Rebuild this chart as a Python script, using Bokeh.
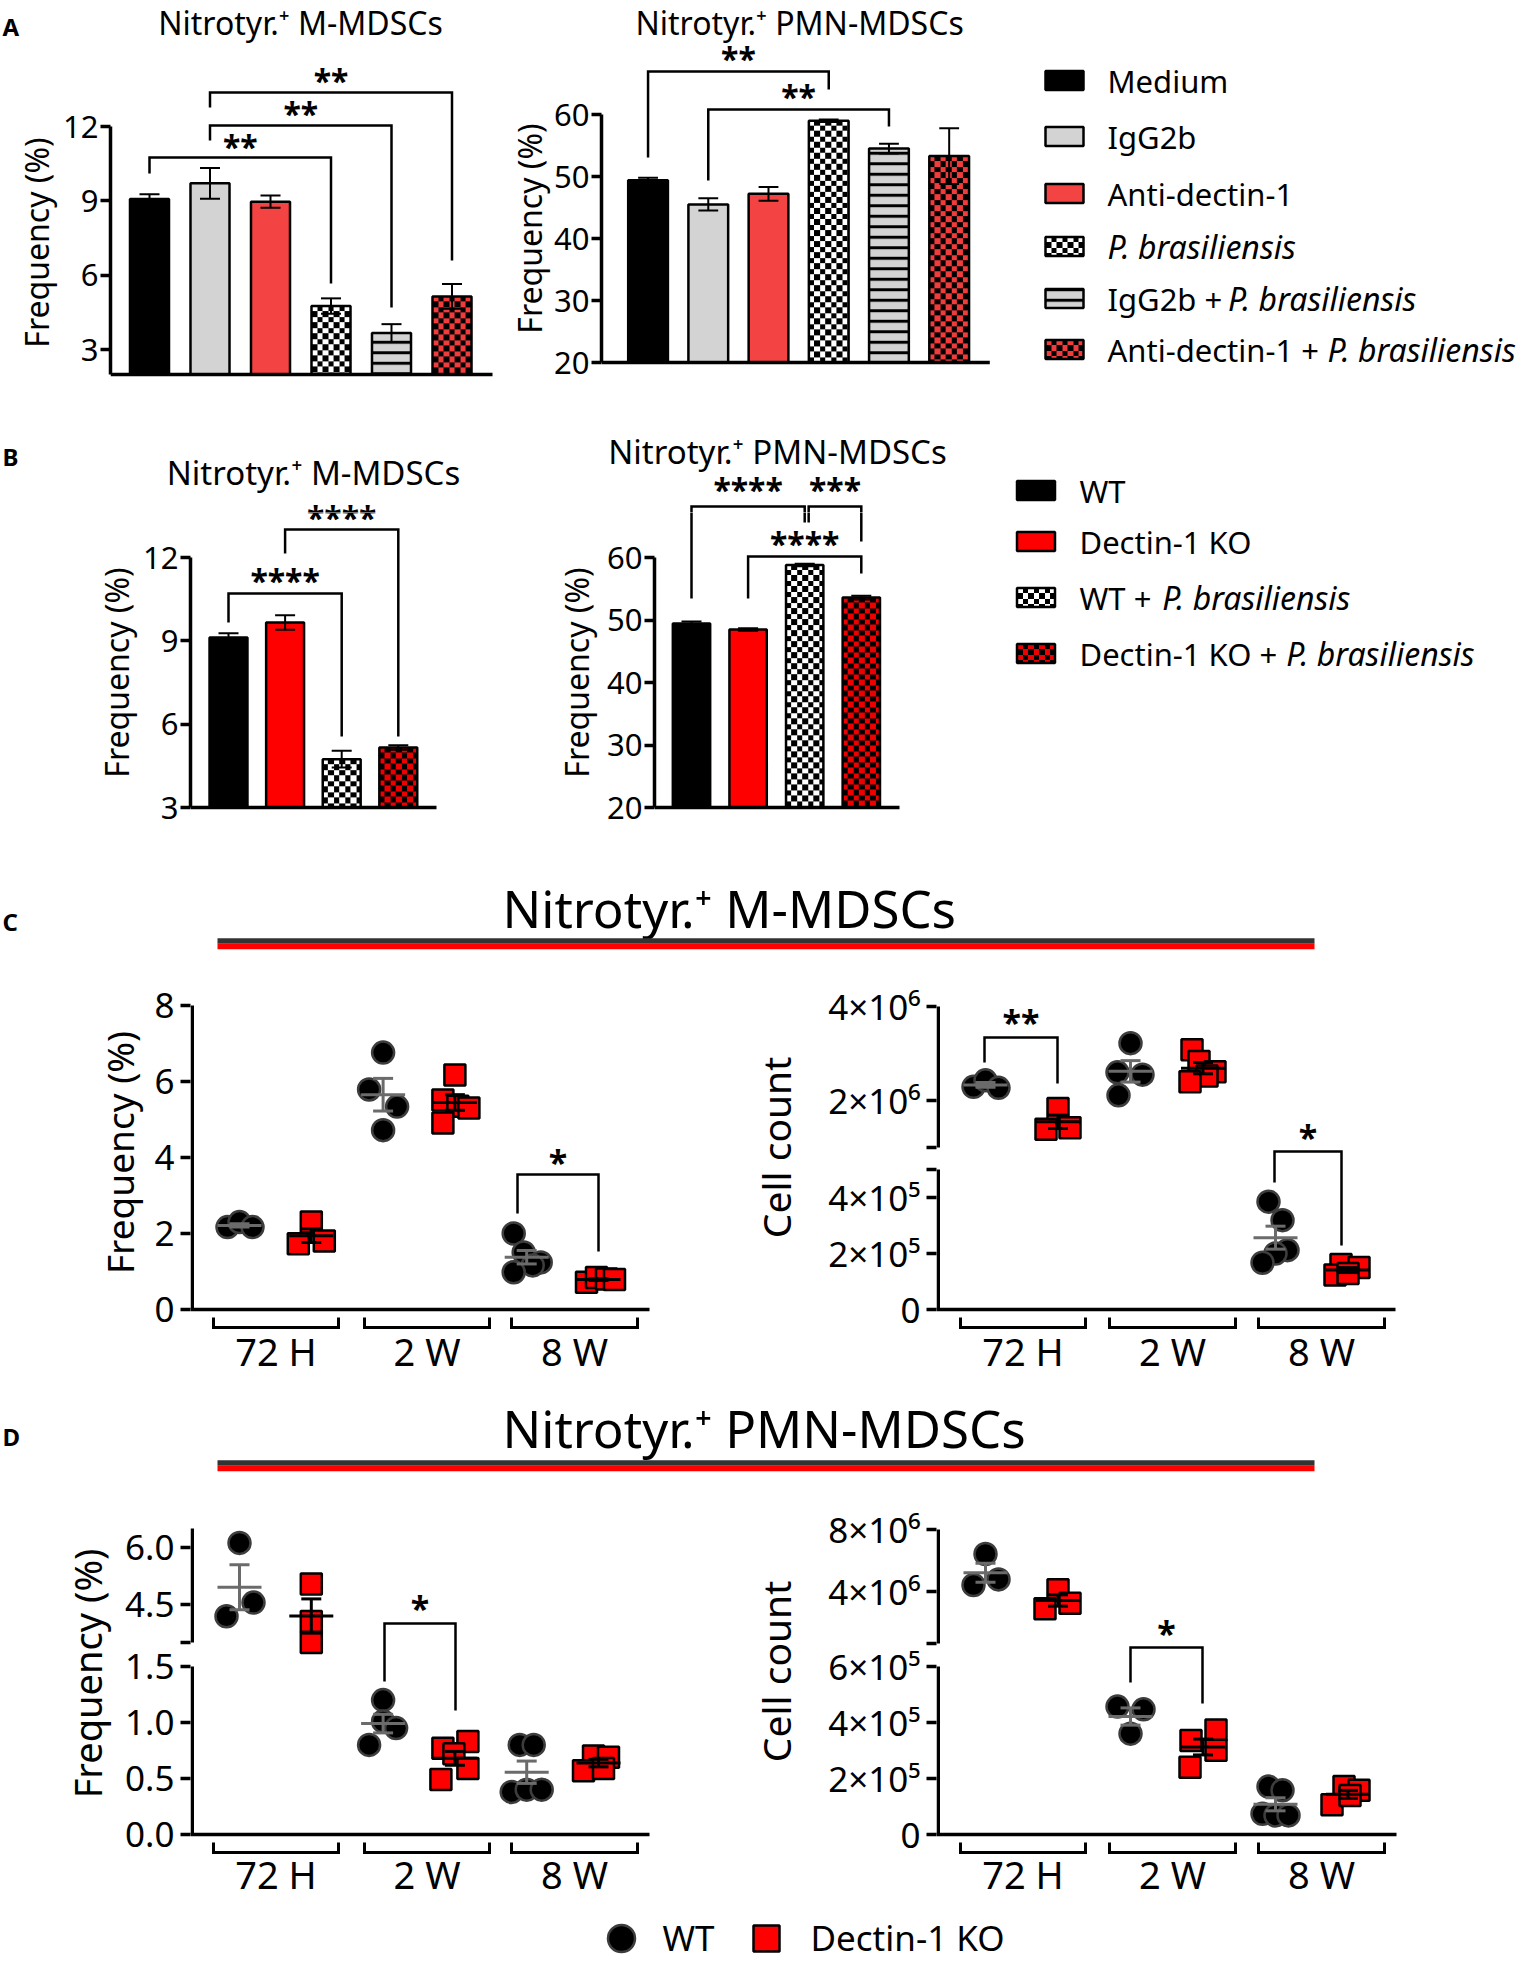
import numpy as np
from bokeh.plotting import figure
from bokeh.layouts import column, row
from bokeh.models import Range1d, FixedTicker
from bokeh.core.properties import value
from bokeh.embed import file_html
from bokeh.resources import INLINE

FONT = "Noto Sans"

# ---------------------------------------------------------------- data
a_labels = ["Medium", "IgG2b", "Anti-dectin-1", "P. brasiliensis",
            "IgG2b + P. brasiliensis", "Anti-dectin-1 + P. brasiliensis"]
a_mmdsc = [9.08, 9.71, 8.97, 4.76, 3.67, 5.15]
a_mmdsc_sem = [0.19, 0.62, 0.25, 0.31, 0.36, 0.50]
a_pmn = [49.4, 45.5, 47.2, 59.0, 54.5, 53.3]
a_pmn_sem = [0.4, 1.0, 1.1, 0.2, 0.8, 4.5]

b_labels = ["WT", "Dectin-1 KO", "WT + P. brasiliensis", "Dectin-1 KO + P. brasiliensis"]
b_mmdsc = [9.12, 9.66, 4.74, 5.16]
b_mmdsc_sem = [0.15, 0.26, 0.30, 0.08]
b_pmn = [49.44, 48.5, 58.8, 53.6]
b_pmn_sem = [0.32, 0.2, 0.2, 0.3]

timepoints = ["72 H", "2 W", "8 W"]
c_freq_wt = [[2.17, 2.30, 2.17], [6.76, 5.79, 5.34, 4.72], [2.00, 1.50, 1.24, 1.16, 0.98]]
c_freq_ko = [[1.73, 2.30, 1.80], [6.17, 5.51, 5.35, 5.30, 4.91], [0.72, 0.84, 0.80, 0.79]]
c_count_wt = [[2.29e6, 2.43e6, 2.27e6], [3.22e6, 2.60e6, 2.55e6, 2.11e6],
              [3.85e5, 3.19e5, 2.12e5, 2.00e5, 1.67e5]]
c_count_ko = [[1.39e6, 1.83e6, 1.42e6], [3.08e6, 2.83e6, 2.61e6, 2.52e6, 2.40e6],
              [1.61e5, 1.50e5, 1.23e5, 1.29e5]]
d_freq_wt = [[6.12, 4.19, 4.55], [1.20, 1.01, 0.95, 0.80], [0.80, 0.80, 0.38, 0.40, 0.40]]
d_freq_ko = [[5.04, 4.05, 3.50], [0.83, 0.77, 0.72, 0.59, 0.49], [0.70, 0.69, 0.57, 0.59]]
d_count_wt = [[6.42e6, 4.42e6, 4.78e6], [4.57e5, 4.47e5, 3.60e5],
              [1.71e5, 1.58e5, 0.74e5, 0.68e5, 0.68e5]]
d_count_ko = [[4.12e6, 2.89e6, 3.25e6], [3.73e5, 3.01e5, 3.36e5, 2.40e5],
              [1.71e5, 1.58e5, 1.06e5, 1.39e5]]

# horizontal scatter offsets of the dots (px)
c_freq_wt_dx = [[-12, 0, 13], [0, -14, 14, 0], [-13, -3, 14, 6, -13]]
c_freq_ko_dx = [[-13, 0, 13], [0, -12, 3, 14, -12], [-12, -2, 8, 16]]
c_count_wt_dx = [[-12, 0, 13], [0, -13, 12, -12], [-7, 7, 12, 0, -13]]
c_count_ko_dx = [[-12, 0, 12], [-11, -4, 12, 4, -13], [-7, 11, -13, 0]]
d_freq_wt_dx = [[0, -13, 14], [0, 0, 13, -14], [-7, 7, -15, 0, 15]]
d_freq_ko_dx = [[0, 0, 0], [13, -12, -1, 13, -14], [-5, 10, -15, 5]]
d_count_wt_dx = [[0, -12, 13], [-13, 13, 0], [-7, 7, -13, 0, 13]]
d_count_ko_dx = [[0, -13, 12], [13, 13, -12, -13], [-4, 11, -16, 2]]

# ---------------------------------------------------------------- styles
BLACK = (0, 0, 0, 255)
WHITE = (255, 255, 255, 255)
RED_A = (242, 60, 60, 255)
RED_B = (238, 0, 0, 255)
a_styles = [("solid", "black"), ("solid", "#d3d3d3"), ("solid", "#f44343"),
            ("checker", WHITE, BLACK), ("stripe", "#d3d3d3"), ("checker", RED_A, BLACK)]
b_styles = [("solid", "black"), ("solid", "#ff0000"),
            ("checker", WHITE, BLACK), ("checker", RED_B, BLACK)]

W_EM = {' ': .26, 'A': .633, 'D': .735, 'G': .728, 'I': .274, 'K': .589, 'O': .781,
        'P': .579, 'T': .566, 'W': .944, 'M': .907, 'a': .556, 'b': .613, 'c': .476,
        'd': .613, 'e': .561, 'g': .548, 'i': .253, 'l': .253, 'n': .614, 'r': .408,
        's': .477, 't': .353, 'u': .614, 'm': .94, '+': .571, '-': .322, '1': .572, '2': .572}


def text_w(s, fs):
    return sum(W_EM.get(c, .56) for c in s) * fs


class F:
    pass


def make_fig(box, frame, xmap, ymap, y_axis=False):
    X0, Y0, X1, Y1 = box
    FL, FT, FR, FB = frame
    ox, kx = xmap
    (sa, va), (sb, vb) = ymap
    ky = (sa - sb) / (vb - va)
    f = F()
    f.fx = lambda sx: (sx - ox) / kx
    f.fy = lambda sy: va + (sa - sy) / ky
    f.kx, f.ky = kx, ky
    f.FL, f.FT, f.FR, f.FB = FL, FT, FR, FB
    p = figure(width=X1 - X0, height=Y1 - Y0,
               x_range=Range1d(f.fx(FL), f.fx(FR)), y_range=Range1d(f.fy(FB), f.fy(FT)),
               x_axis_location=None, y_axis_location="left" if y_axis else None,
               output_backend="svg", toolbar_location=None, title=None,
               min_border_left=FL - X0, min_border_right=X1 - FR,
               min_border_top=FT - Y0, min_border_bottom=Y1 - FB)
    p.outline_line_color = None
    p.background_fill_color = "white"
    p.border_fill_color = "white"
    for g in p.grid:
        g.visible = False
    f.p = p
    return f


def pfig(box):
    X0, Y0, X1, Y1 = box
    return make_fig(box, box, (0, 1), ((Y1, 0), (Y0, Y1 - Y0)))


def txt(f, sx, sy, text, size, style="normal", align="center", angle=0.0):
    # sy = visual centre of the text line
    f.p.text(x=[f.fx(sx)], y=[f.fy(sy)], text=[text], angle=angle, text_font=value(FONT),
             text_font_size=value(f"{size}px"), text_font_style=value(style),
             text_align=value(align), text_baseline=value("alphabetic"), text_color="black")


def style_axis(ax, fs, standoff=6):
    ax.major_tick_in = 0
    ax.major_tick_out = 10
    ax.minor_tick_line_color = None
    ax.major_tick_line_width = 3.5
    ax.major_tick_line_color = "black"
    ax.axis_line_width = 3.5
    ax.axis_line_color = "black"
    ax.major_label_text_font = FONT
    ax.major_label_text_font_size = f"{fs}px"
    ax.major_label_text_color = "black"
    ax.major_label_standoff = standoff


def checker_rgba(w_px, h_px, ca, cb, cell=5.5, ss=2):
    W = max(2, int(round(w_px * ss)))
    H = max(2, int(round(h_px * ss)))
    yy, xx = np.mgrid[0:H, 0:W]
    yy = H - 1 - yy
    m = ((yy // (cell * ss)).astype(int) + (xx // (cell * ss)).astype(int)) % 2 == 0
    img = np.zeros((H, W), dtype=np.uint32)
    v = img.view(dtype=np.uint8).reshape((H, W, 4))
    v[m] = ca
    v[~m] = cb
    return img


def bar_panel(f, vals, sems, base, styles, bw, yticks, ytop, x_end_px):
    p = f.p
    ya = p.yaxis[0]
    style_axis(ya, 31, standoff=2)
    ya.ticker = FixedTicker(ticks=yticks)
    ya.bounds = (base, ytop)
    for i, (v, st) in enumerate(zip(vals, styles)):
        if st[0] == "solid":
            p.vbar(x=[i], top=[v], bottom=base, width=bw, fill_color=st[1],
                   line_color="black", line_width=2.5)
        elif st[0] == "stripe":
            p.vbar(x=[i], top=[v], bottom=base, width=bw, fill_color=st[1],
                   hatch_pattern="horizontal_line", hatch_color="black", hatch_scale=10.5,
                   hatch_weight=3, line_color="black", line_width=2.5)
        else:
            img = checker_rgba(bw * f.kx, (v - base) * f.ky, st[1], st[2])
            p.image_rgba(image=[img], x=i - bw / 2, y=base, dw=bw, dh=v - base)
            p.vbar(x=[i], top=[v], bottom=base, width=bw, fill_color=None,
                   line_color="black", line_width=2.5)
    x = np.arange(len(vals), dtype=float)
    lo = np.array(vals) - np.array(sems)
    hi = np.array(vals) + np.array(sems)
    cap = 10 / f.kx
    p.segment(x, lo, x, hi, line_color="black", line_width=2)
    p.segment(x - cap, hi, x + cap, hi, line_color="black", line_width=2)
    p.segment(x - cap, lo, x + cap, lo, line_color="black", line_width=2)
    p.segment([f.fx(f.FL)], [base], [f.fx(x_end_px)], [base], line_color="black", line_width=3.5)


def bar_sx(f, xi):
    return f.FL + (xi - f.fx(f.FL)) * f.kx


def bracket(f, x0, x1, s_top, s_l, s_r, stars=None, s_star=None, fs=32):
    f.p.multi_line(xs=[[x0, x0, x1, x1]],
                   ys=[[f.fy(s_l), f.fy(s_top), f.fy(s_top), f.fy(s_r)]],
                   line_color="black", line_width=2.5, line_join="miter")
    if stars:
        txt(f, bar_sx(f, (x0 + x1) / 2), s_star + 0.19 * fs, stars, fs, "bold")


def bracket_px(f, sx0, sx1, s_top, s_l, s_r):
    f.p.multi_line(xs=[[f.fx(sx0), f.fx(sx0), f.fx(sx1), f.fx(sx1)]],
                   ys=[[f.fy(s_l), f.fy(s_top), f.fy(s_top), f.fy(s_r)]],
                   line_color="black", line_width=2.5, line_join="miter")


def make_map(segs):
    def mp(v):
        va, vb, pa, pb = segs[0]
        if len(segs) > 1 and v > vb:
            va, vb, pa, pb = segs[1]
        return pa + (v - va) * (pb - pa) / (vb - va)
    return mp


def dot_panel(f, wt, ko, wt_dx, ko_dx, mp, tick_vals, tick_labels, extra_px, lines,
              base_sy, x_end_px, spans, lab_dy=41):
    p = f.p
    ax = p.yaxis[0]
    style_axis(ax, 35)
    ticks = [int(round(mp(v))) for v in tick_vals]
    ov = {t: l for t, l in zip(ticks, tick_labels)}
    for e in extra_px:
        ticks.append(e)
        ov[e] = ""
    ax.ticker = FixedTicker(ticks=sorted(ticks))
    ax.major_label_overrides = ov
    ax.axis_line_color = None
    xl = f.fx(f.FL + 1.75)
    p.segment([xl] * len(lines), [a for a, b in lines], [xl] * len(lines), [b for a, b in lines],
              line_color="black", line_width=3.5, line_cap="butt")
    p.segment([f.fx(f.FL)], [0], [f.fx(x_end_px)], [0], line_color="black", line_width=3.5)
    for (a, b), t in zip(spans, timepoints):
        p.multi_line(xs=[[f.fx(a), f.fx(a), f.fx(b), f.fx(b)]],
                     ys=[[f.fy(base_sy + 8), f.fy(base_sy + 18), f.fy(base_sy + 18), f.fy(base_sy + 8)]],
                     line_color="black", line_width=3, line_join="miter")
        txt(f, (a + b) / 2, base_sy + lab_dy, t, 38)
    for data, dxs, slot, kind in ((wt, wt_dx, 0, "wt"), (ko, ko_dx, 1, "ko")):
        xs, ys = [], []
        for g, (vals, dx) in enumerate(zip(data, dxs)):
            for v, d in zip(vals, dx):
                xs.append(2 * g + slot + d / f.kx)
                ys.append(mp(v))
        if kind == "wt":
            p.scatter(xs, ys, marker="circle", size=22, fill_color="black",
                      line_color="#3d3d3d", line_width=2.5)
        else:
            p.scatter(xs, ys, marker="square", size=21, fill_color="#ff0000",
                      line_color="black", line_width=2.5)
    for data, slot, col in ((wt, 0, "#6b6b6b"), (ko, 1, "black")):
        x0s, y0s, x1s, y1s = [], [], [], []
        hw, cw = 22 / f.kx, 10 / f.kx
        for g, vals in enumerate(data):
            m = float(np.mean(vals))
            s = float(np.std(vals, ddof=1) / np.sqrt(len(vals)))
            x = 2 * g + slot
            for a, b, c, d in ((x - hw, m, x + hw, m), (x, m - s, x, m + s),
                               (x - cw, m + s, x + cw, m + s), (x - cw, m - s, x + cw, m - s)):
                x0s.append(a); y0s.append(mp(b)); x1s.append(c); y1s.append(mp(d))
        p.segment(x0s, y0s, x1s, y1s, line_color=col, line_width=3)


def dot_bracket(f, sx0, sx1, s_top, s_l, s_r, stars, s_star, fs=34):
    bracket_px(f, sx0, sx1, s_top, s_l, s_r)
    txt(f, (sx0 + sx1) / 2, s_star + 0.19 * fs, stars, fs, "bold")


def swatch(f, cx, cy, st, w=38, h=19):
    p = f.p
    if st[0] == "checker":
        img = checker_rgba(w, h, st[1], st[2])
        p.image_rgba(image=[img], x=f.fx(cx - w / 2), y=f.fy(cy + h / 2), dw=w, dh=h)
        p.rect(x=[f.fx(cx)], y=[f.fy(cy)], width=w, height=h, fill_color=None,
               line_color="black", line_width=2.5)
    elif st[0] == "stripe":
        p.rect(x=[f.fx(cx)], y=[f.fy(cy)], width=w, height=h, fill_color=st[1],
               hatch_pattern="horizontal_line", hatch_color="black", hatch_scale=10.5,
               hatch_weight=3, line_color="black", line_width=2.5)
    else:
        p.rect(x=[f.fx(cx)], y=[f.fy(cy)], width=w, height=h, fill_color=st[1],
               line_color="black", line_width=2.5)


def legend_panel(f, labels, styles, sw_x, txt_x, rows, fs=31, fs_it=32):
    for lbl, st, cy in zip(labels, styles, rows):
        swatch(f, sw_x, cy, st)
        if "P. brasiliensis" in lbl:
            pre = lbl.replace("P. brasiliensis", "")
            if pre:
                txt(f, txt_x, cy, pre, fs, align="left")
            txt(f, txt_x + text_w(pre, fs) + (2 if pre else 0), cy, "P. brasiliensis", fs_it,
                "italic", align="left")
        else:
            txt(f, txt_x, cy, lbl, fs, align="left")


VERT = np.pi / 2
LET = 24

# ================================================================ Panel A (y 0..408)
GA = pfig((0, 0, 60, 408))
txt(GA, 2, 26, "A", LET, "bold", align="left")
txt(GA, 36, 242, "Frequency (%)", 32, angle=VERT)

A1 = make_fig((60, 0, 551, 408), (110, 0, 551, 408), (149, 60.5), ((374, 2), (126, 12)), True)
bar_panel(A1, a_mmdsc, a_mmdsc_sem, 2, a_styles, 0.645, [3, 6, 9, 12], 12, 492)
txt(A1, 300, 22, "Nitrotyr.⁺ M-MDSCs", 32)
txt(A1, 529, 228, "Frequency (%)", 32, angle=VERT)   # y title of the right-hand plot
for b in [(0, 3, 157, 173, 283, "**", 140), (1, 4, 125, 140, 307, "**", 107),
          (1, 5, 92, 107, 260, "**", 74)]:
    bracket(A1, *b)

A2 = make_fig((551, 0, 1020, 408), (597, 0, 1020, 408), (644, 60.8), ((362, 20), (114, 60)), True)
bar_panel(A2, a_pmn, a_pmn_sem, 20, a_styles, 0.66, [20, 30, 40, 50, 60], 60, 989)
txt(A2, 797, 22, "Nitrotyr.⁺ PMN-MDSCs", 32)
for b in [(0, 3, 71, 157, 89, "**", 52), (1, 4, 109, 180, 126, "**", 90)]:
    bracket(A2, *b)

LA = pfig((1020, 0, 1534, 408))
legend_panel(LA, a_labels, a_styles, 1064, 1107, [80, 136, 193, 246, 298, 349])

# ================================================================ Panel B (y 408..860)
SPLIT = 512
TBL = pfig((0, 408, 598, SPLIT))
txt(TBL, 2, 456, "B", LET, "bold", align="left")
txt(TBL, 313, 472, "Nitrotyr.⁺ M-MDSCs", 33)
TBR = pfig((598, 408, 1010, SPLIT))
txt(TBR, 777, 451, "Nitrotyr.⁺ PMN-MDSCs", 33)
LBT = pfig((1010, 408, 1534, SPLIT))
legend_panel(LBT, b_labels[:1], b_styles[:1], 1035.5, 1079, [490])

GB = pfig((0, SPLIT, 140, 860))
txt(GB, 116, 672, "Frequency (%)", 32, angle=VERT)

B1 = make_fig((140, SPLIT, 598, 860), (190, SPLIT, 598, 860), (228, 56.6), ((807, 3), (557, 12)), True)
bar_panel(B1, b_mmdsc, b_mmdsc_sem, 3, b_styles, 0.67, [3, 6, 9, 12], 12, 436)
txt(B1, 576, 672, "Frequency (%)", 32, angle=VERT)   # y title of the right-hand plot
bracket(B1, 0, 2, 593, 622, 736, "****", 574)
bracket(B1, 1, 3, 529, 553, 736)
# star of the upper bracket straddles the strip boundary: drawn in both panes
for pane in (TBL, B1):
    txt(pane, (bar_sx(B1, 1) + bar_sx(B1, 3)) / 2, 511 + 0.19 * 32, "****", 32, "bold")

B2 = make_fig((598, SPLIT, 1010, 860), (654, SPLIT, 1010, 860), (691, 56.6), ((807, 20), (557, 60)), True)
bar_panel(B2, b_pmn, b_pmn_sem, 20, b_styles, 0.66, [20, 30, 40, 50, 60], 60, 899)
b2_upper = [(0, 2, 506, 598, 522, "****", 483), (2.07, 3, 506, 522, 541, "***", 483)]
for x0, x1, st, sl, sr, stars, ss in b2_upper:
    sx0, sx1 = bar_sx(B2, x0), bar_sx(B2, x1)
    bracket(B2, x0, x1, st, sl, sr)
    bracket_px(TBR, sx0, sx1, st, sl, sr)
    txt(TBR, (sx0 + sx1) / 2, ss + 0.19 * 32, stars, 32, "bold")
bracket(B2, 1, 3, 556, 598, 573, "****", 537)

LBB = pfig((1010, SPLIT, 1534, 860))
legend_panel(LBB, b_labels[1:], b_styles[1:], 1035.5, 1079, [541, 597, 653])


# ================================================================ headers
def header(box, title, cap_c, line_y, letter, letter_c):
    h = pfig(box)
    txt(h, 502, cap_c, title, 51, align="left")
    txt(h, 2, letter_c, letter, LET, "bold", align="left")
    h.p.segment(x0=[217, 217], y0=[h.fy(line_y), h.fy(line_y + 5.5)], x1=[1314, 1314],
                y1=[h.fy(line_y), h.fy(line_y + 5.5)], line_color=["#333333", "#ff0000"],
                line_width=5.5)
    return h


HC = header((0, 860, 1534, 960), "Nitrotyr.⁺ M-MDSCs", 907, 940.5, "C", 921)
HD = header((0, 1380, 1534, 1480), "Nitrotyr.⁺ PMN-MDSCs", 1427, 1462.5, "D", 1436)

spans_L = [(213, 338), (364, 489), (511, 637)]
spans_R = [(960, 1085), (1109, 1235), (1258, 1384)]

# ================================================================ Panel C (y 960..1380)
GC = pfig((0, 960, 146, 1380))
txt(GC, 119, 1152, "Frequency (%)", 37, angle=VERT)

C1 = make_fig((146, 960, 802, 1380), (190, 960, 802, 1380), (239, 71.8), ((1309, 0), (1005, 304)), True)
m_c1 = make_map([(0, 8, 0, 304)])
dot_panel(C1, c_freq_wt, c_freq_ko, c_freq_wt_dx, c_freq_ko_dx, m_c1,
          [0, 2, 4, 6, 8], ["0", "2", "4", "6", "8"], [], [(0, 304)], 1309, 649, spans_L)
txt(C1, 775, 1147, "Cell count", 39, angle=VERT)   # y title of the right-hand plot
dot_bracket(C1, 517, 598, 1174, 1213, 1251, "*", 1155)

C2 = make_fig((802, 960, 1534, 1380), (936, 960, 1534, 1380), (985, 72.5), ((1309, 0), (1006, 303)), True)
m_c2 = make_map([(0, 5e5, 0, 140), (1e6, 4e6, 162, 303)])
dot_panel(C2, c_count_wt, c_count_ko, c_count_wt_dx, c_count_ko_dx, m_c2,
          [0, 2e5, 4e5, 2e6, 4e6], ["0", "2×10⁵", "4×10⁵", "2×10⁶", "4×10⁶"], [140, 162],
          [(0, 140), (162, 303)], 1309, 1395, spans_R)
dot_bracket(C2, 984, 1057, 1037, 1062, 1083, "**", 1015)
dot_bracket(C2, 1274, 1341, 1151, 1182, 1245, "*", 1130)

# ================================================================ Panel D (y 1480..1900)
GD = pfig((0, 1480, 114, 1900))
txt(GD, 86, 1673, "Frequency (%)", 38, angle=VERT)

D1 = make_fig((114, 1480, 802, 1900), (190, 1480, 802, 1900), (239, 71.8), ((1834, 0), (1529, 305)), True)
m_d1 = make_map([(0, 1.5, 0, 168), (3.5, 6.5, 192, 306)])
dot_panel(D1, d_freq_wt, d_freq_ko, d_freq_wt_dx, d_freq_ko_dx, m_d1,
          [0, 0.5, 1.0, 1.5, 4.5, 6.0], ["0.0", "0.5", "1.0", "1.5", "4.5", "6.0"], [192],
          [(0, 168), (192, 306)], 1834, 649, spans_L, lab_dy=39)
txt(D1, 775, 1671, "Cell count", 39, angle=VERT)   # y title of the right-hand plot
dot_bracket(D1, 384, 455, 1623, 1681, 1710, "*", 1601)

D2 = make_fig((802, 1480, 1534, 1900), (936, 1480, 1534, 1900), (985, 72.5), ((1834, 0), (1529, 305)), True)
m_d2 = make_map([(0, 6e5, 0, 168), (4e6, 8e6, 243, 305)])
dot_panel(D2, d_count_wt, d_count_ko, d_count_wt_dx, d_count_ko_dx, m_d2,
          [0, 2e5, 4e5, 6e5, 4e6, 8e6], ["0", "2×10⁵", "4×10⁵", "6×10⁵", "4×10⁶", "8×10⁶"], [191],
          [(0, 168), (191, 305)], 1834, 1396, spans_R, lab_dy=39)
dot_bracket(D2, 1130, 1202, 1647, 1682, 1703, "*", 1626)

# ================================================================ bottom legend
LG = pfig((0, 1900, 1534, 1961))
LG.p.scatter([LG.fx(621)], [LG.fy(1938)], marker="circle", size=27, fill_color="black",
             line_color="#3d3d3d", line_width=2.5)
LG.p.scatter([LG.fx(766)], [LG.fy(1938)], marker="square", size=26, fill_color="#ff0000",
             line_color="black", line_width=2.5)
txt(LG, 662, 1937, "WT", 35, align="left")
txt(LG, 810, 1937, "Dectin-1 KO", 35, align="left")

layout = column(
    row(GA.p, A1.p, A2.p, LA.p),
    row(TBL.p, TBR.p, LBT.p),
    row(GB.p, B1.p, B2.p, LBB.p),
    HC.p,
    row(GC.p, C1.p, C2.p),
    HD.p,
    row(GD.p, D1.p, D2.p),
    LG.p,
)

open("out.html", "w").write(file_html(layout, INLINE))
